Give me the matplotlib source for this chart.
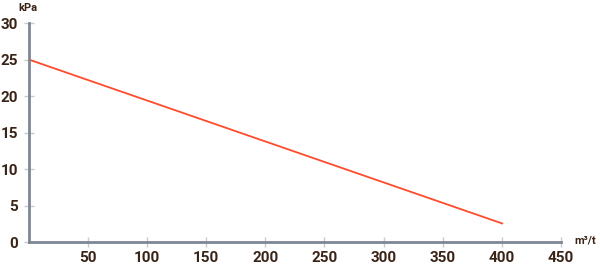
import matplotlib
matplotlib.use("Agg")
import matplotlib.pyplot as plt

flow = [0, 401]
pressure = [25, 2.5]
x_ticks = [50, 100, 150, 200, 250, 300, 350, 400, 450]
y_ticks = [0, 5, 10, 15, 20, 25, 30]

text_color = "#3a2418"
axis_color = "#7d8893"
tick_color = "#c5cbd1"
line_color = "#ff4b2b"

plt.rcParams['font.family'] = ['Roboto', 'DejaVu Sans']

fig = plt.figure(figsize=(6, 2.68), dpi=100)
ax = fig.add_axes([0.048, 0.097, 0.887, 0.817])
ax.plot(flow, pressure, color=line_color, lw=1.3, solid_capstyle='butt')
ax.set_xlim(0, 450)
ax.set_ylim(0, 30)
ax.set_xticks(x_ticks)
ax.set_yticks(y_ticks)
ax.set_xticklabels([str(v) for v in x_ticks])
ax.set_yticklabels([str(v) for v in y_ticks])
for s in ['top', 'right']:
    ax.spines[s].set_visible(False)
for s in ['left', 'bottom']:
    ax.spines[s].set_color(axis_color)
    ax.spines[s].set_linewidth(2)
ax.tick_params(axis='both', direction='inout', length=7, width=1, color=tick_color,
               labelsize=11, labelcolor=text_color, pad=3)
ax.tick_params(axis='y', pad=4)
for lab in ax.get_xticklabels() + ax.get_yticklabels():
    lab.set_fontweight('bold')
fig.text(28 / 600, 1 - 3 / 268, "kPa", fontsize=8, fontweight='bold',
         color=text_color, ha='center', va='top')
fig.text(585 / 600, 1 - 241 / 268, "m³/t", fontsize=8, fontweight='bold',
         color=text_color, ha='center', va='center')
fig.savefig("out.png", dpi=100)
